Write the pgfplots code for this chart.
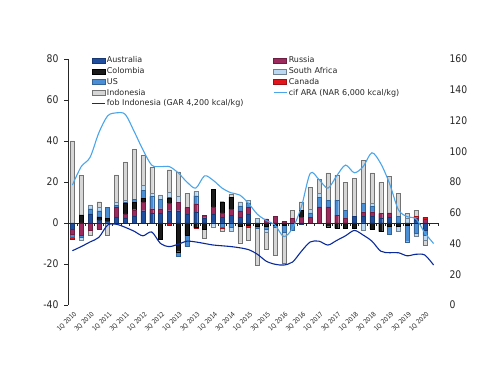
\documentclass[border=0pt]{standalone}
\usepackage{fontspec}
\setmainfont{DejaVu Sans}[FakeStretch=0.88]
\newfontfamily\legfont{DejaVu Sans}
\usepackage{pgfplots}
\usepackage{pgfplotstable}
\pgfplotsset{compat=1.18}

\definecolor{cAU}{HTML}{1F4E9E}
\definecolor{cCO}{HTML}{1A1A1A}
\definecolor{cUS}{HTML}{4A8FD6}
\definecolor{cID}{HTML}{D6D6D6}
\definecolor{cRU}{HTML}{9C2A5C}
\definecolor{cSA}{HTML}{BBD9F2}
\definecolor{cCA}{HTML}{E3141B}
\definecolor{cFOB}{HTML}{0A2A9C}
\definecolor{cCIF}{HTML}{4AA5EA}

\pgfplotstableread{
q AU RU CO US SA CA ID
0 -3 -2.5 0 -1.5 0 -1 40
1 0 -6 4 -1 -1.5 0 19.4
2 4.5 -3.5 0 2.5 1.8 0 -2.5
3 1.5 -3 1.5 3 1.5 0 2.9
4 0.8 0 1.5 5.5 0 0 -6
5 3 4.5 0 1 1.5 0 13.5
6 2.5 2 5 0.8 0.8 0 18.7
7 3.5 3 3.5 1.5 0 0 24.5
8 6 4 2 4 2.5 0 14.5
9 5 2 0 6 1.5 0 12.5
10 5 2 -8 4.5 2 0 0.2
11 6 3.5 2.5 0.5 2.5 -1 11
12 6 4 -14 -2.4 3 0 12
13 4.5 3 -6 -5.5 0 0 7
14 5.3 4 -2 4 2 -0.6 0
15 2.6 1 -3 0 0 0 -4.5
16 4.4 3.5 8.5 0 -1.8 0 0
17 2.7 2.2 5.5 -2 0 -0.7 -1.5
18 3.6 3 6 -2.2 -2 0 1.5
19 2.9 3 -1.6 2.5 2 0 -8
20 4.2 3.5 -1 2 1.5 -1 -6.3
21 0 0 -1.5 -1 2.3 0 -18
22 0 2 -1.5 -1.5 -1.5 0 -8.3
23 0 3.4 -1 -1 0 0 -13.6
24 0 0.7 -1 -3.5 0 0 -15.2
25 0 2.3 0 -3.4 0 0 4
26 -0.5 2.8 3.5 0 0 0 4.1
27 0 2.8 0 2.2 1.7 0 10.7
28 0 7.9 0 4.7 2 0 6.8
29 0 7.9 -1.8 3.3 0 0 13.3
30 0 3.9 -2.6 7.3 0 0 12.2
31 0 2.3 -2.6 4 0 0 13.4
32 3.1 0 -2.6 0 0 0 18.7
33 3.1 2.4 0 4.1 -3.4 0 21.1
34 3.1 2.4 -3 2.6 1.5 0 14.9
35 2.3 2.4 -4.2 0 0 0 15
36 2.8 2.2 -1.5 -3.9 0 0 17.9
37 0 0 -1.5 3.1 -2.5 0 11.4
38 0 0 -1.1 -8 2.3 0 2.4
39 1.3 1.3 0 -5 -1.3 0.8 2.9
40 -3.4 1.8 0 -2.5 -2.4 1 -2.4
}\bars

\pgfplotstableread{
q cif fob
0 78 35.3
1 90 38
2 96 41
3 112 44
4 123 52
5 125 52.5
6 124 50.5
7 113 48
8 101 45
9 91 47.5
10 90 40
11 90 38
12 86 39.5
13 80 41.5
14 76 41
15 84 40
16 81 39
17 76 38.5
18 73 38
19 71.5 37.2
20 66 36
21 59 33
22 55 28.5
23 52 26.5
24 44.5 26
25 50 28
26 64 35
27 85.7 41
28 81.5 41.5
29 76 39
30 84 42
31 91 45
32 86 48.5
33 90 45.5
34 99 41.5
35 92 35
36 79 34
37 62 34
38 57.5 32
39 56 33
40 47 32.5
41 40 26
}\lines

\pgfplotsset{
  base/.style={at={(68pt,81pt)}, anchor=south west, scale only axis,
    width=370pt, height=246pt, xmin=-0.5, xmax=41.5},
  barstyle/.style={ybar stacked, bar width=4pt},
  bAU/.style={fill=cAU, draw=cAU!70!black, line width=0.3pt},
  bRU/.style={fill=cRU, draw=cRU!70!black, line width=0.3pt},
  bCO/.style={fill=cCO, draw=black, line width=0.3pt},
  bUS/.style={fill=cUS, draw=cUS!70!black, line width=0.3pt},
  bSA/.style={fill=cSA, draw=cSA!60!black, line width=0.3pt},
  bCA/.style={fill=cCA, draw=cCA!70!black, line width=0.3pt},
  bID/.style={fill=cID, draw=black!55, line width=0.3pt},
  sw/.style={legend image code/.code={\draw[##1] (0pt,-2.5pt) rectangle (13pt,2.5pt);}},
  ln/.style={legend image code/.code={\draw[##1] (0pt,0pt) -- (13pt,0pt);}},
}

\begin{document}
\begin{tikzpicture}[x=1pt,y=1pt]
\path[use as bounding box] (0,0) rectangle (500,386);

% positive stacks + left axis + x labels
\begin{axis}[base, barstyle, ymin=-40, ymax=80, ytick={-40,-20,...,80},
  axis y line*=left, y axis line style={black!85, line width=0.6pt},
  ytick style={black!85, line width=0.6pt}, tick align=outside, major tick length=4pt,
  yticklabel style={font=\fontsize{10.5}{12}\selectfont, xshift=-2pt, text=black!85},
  axis x line*=bottom, x axis line style={draw=none}, xtick style={draw=none},
  xtick={0,2,...,40},
  xticklabels={1Q 2010,3Q 2010,1Q 2011,3Q 2011,1Q 2012,3Q 2012,1Q 2013,3Q 2013,1Q 2014,3Q 2014,1Q 2015,3Q 2015,1Q 2016,3Q 2016,1Q 2017,3Q 2017,1Q 2018,3Q 2018,1Q 2019,3Q 2019,1Q 2020},
  xticklabel style={rotate=45, anchor=east, font=\fontsize{6.5}{7}\selectfont, inner sep=0.5pt, yshift=-5pt, text=black!85},
  /pgf/number format/assume math mode=true]
\addplot[bAU] table[x=q, y expr={max(\thisrow{AU},0)}] {\bars};
\addplot[bRU] table[x=q, y expr={max(\thisrow{RU},0)}] {\bars};
\addplot[bCO] table[x=q, y expr={max(\thisrow{CO},0)}] {\bars};
\addplot[bUS] table[x=q, y expr={max(\thisrow{US},0)}] {\bars};
\addplot[bSA] table[x=q, y expr={max(\thisrow{SA},0)}] {\bars};
\addplot[bCA] table[x=q, y expr={max(\thisrow{CA},0)}] {\bars};
\addplot[bID] table[x=q, y expr={max(\thisrow{ID},0)}] {\bars};
\end{axis}

% negative stacks
\begin{axis}[base, barstyle, ymin=-40, ymax=80, hide axis]
\addplot[bAU] table[x=q, y expr={min(\thisrow{AU},0)}] {\bars};
\addplot[bRU] table[x=q, y expr={min(\thisrow{RU},0)}] {\bars};
\addplot[bCO] table[x=q, y expr={min(\thisrow{CO},0)}] {\bars};
\addplot[bUS] table[x=q, y expr={min(\thisrow{US},0)}] {\bars};
\addplot[bSA] table[x=q, y expr={min(\thisrow{SA},0)}] {\bars};
\addplot[bCA] table[x=q, y expr={min(\thisrow{CA},0)}] {\bars};
\addplot[bID] table[x=q, y expr={min(\thisrow{ID},0)}] {\bars};
\end{axis}

% zero line with category ticks
\draw[black!85, line width=0.6pt] (68,163) -- (438,163);
\foreach \k in {0,...,42} \draw[black!85, line width=0.5pt] (68+\k*8.8095,163) -- ++(0,-3);

% price lines + right axis + legend
\begin{axis}[base, ymin=0, ymax=160, ytick={0,20,...,160},
  axis y line*=right, y axis line style={draw=none}, ytick style={draw=none},
  yticklabel style={font=\fontsize{10.5}{12}\selectfont, xshift=8pt, text=black!85},
  axis x line=none,
  /pgf/number format/assume math mode=true,
  legend columns=2,
  legend style={draw=none, fill=none, at={(axis description cs:0,1)}, anchor=north west,
    xshift=23pt, yshift=4pt, inner sep=0pt, row sep=0pt,
    font=\legfont\fontsize{8}{9}\selectfont, text=black!85,
    nodes={inner sep=1.6pt},
    /tikz/every even column/.append style={column sep=28pt}},
  legend cell align=left]
\addplot[cCIF, line width=1.1pt, smooth, forget plot] table[x=q, y=cif] {\lines};
\addplot[cFOB, line width=1.1pt, smooth, forget plot] table[x=q, y=fob] {\lines};
\addlegendimage{sw, bAU}\addlegendentry{Australia}
\addlegendimage{sw, bRU}\addlegendentry{Russia}
\addlegendimage{sw, bCO}\addlegendentry{Colombia}
\addlegendimage{sw, bSA}\addlegendentry{South Africa}
\addlegendimage{sw, bUS}\addlegendentry{US}
\addlegendimage{sw, bCA}\addlegendentry{Canada}
\addlegendimage{sw, bID}\addlegendentry{Indonesia}
\addlegendimage{ln, cCIF, line width=1.1pt}\addlegendentry{cif ARA (NAR 6,000 kcal/kg)}
\addlegendimage{ln, cFOB, line width=1.1pt}\addlegendentry{fob Indonesia (GAR 4,200 kcal/kg)}
\end{axis}
\end{tikzpicture}
\end{document}
